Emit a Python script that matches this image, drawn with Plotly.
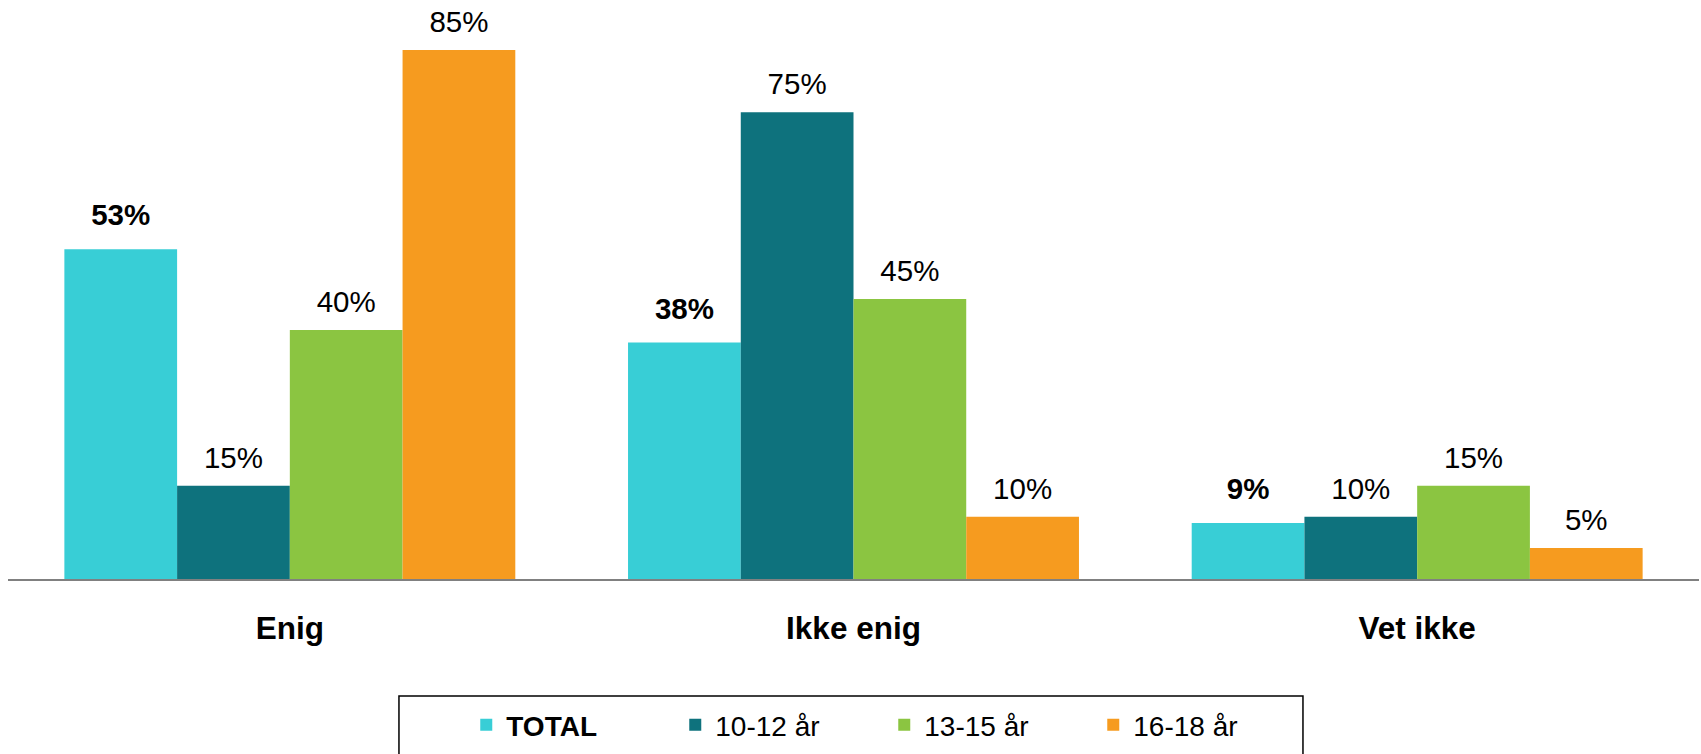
import plotly.graph_objects as go

categories = ["Enig", "Ikke enig", "Vet ikke"]
series_names = ["TOTAL", "10-12 år", "13-15 år", "16-18 år"]
legend_labels = ["<b>TOTAL</b>", "10-12 år", "13-15 år", "16-18 år"]
total = [53, 38, 9]
age_10_12 = [15, 75, 10]
age_13_15 = [40, 45, 15]
age_16_18 = [85, 10, 5]
values = [total, age_10_12, age_13_15, age_16_18]
colors = ["#38CED6", "#0E727D", "#8BC541", "#F69B1F"]

FONT = "Liberation Sans, Arial, sans-serif"

fig = go.Figure()
for name, lab, vals, col in zip(series_names, legend_labels, values, colors):
    fig.add_trace(go.Bar(
        x=categories, y=vals, name=lab, marker=dict(color=col, line=dict(width=0)),
        hoverinfo="skip",
    ))
for i, (name, vals) in enumerate(zip(series_names, values)):
    bold = i == 0
    txt = [f"<b>{v}%</b>" if bold else f"{v}%" for v in vals]
    fig.add_trace(go.Scatter(
        x=categories, y=vals, mode="markers+text", text=txt,
        textposition="top center",
        textfont=dict(family=FONT, size=29.5, color="#000000"),
        marker=dict(size=25 if bold else 15.5, color="rgba(0,0,0,0)"),
        showlegend=False, hoverinfo="skip", cliponaxis=False,
    ))

fig.update_layout(
    width=1701, height=754,
    margin=dict(l=8, r=2, t=19, b=175),
    paper_bgcolor="white", plot_bgcolor="white",
    barmode="group", bargap=0.2, bargroupgap=0,
    scattermode="group", scattergap=0.2,
    font=dict(family=FONT, size=28, color="#000000"),
    xaxis=dict(
        showline=True, linecolor="#808080", linewidth=2,
        showgrid=False, zeroline=False,
        ticks="outside", ticklen=20, tickcolor="rgba(0,0,0,0)",
        tickfont=dict(family=FONT, size=31.5, color="#000000", weight="bold"),
    ),
    yaxis=dict(range=[0, 90], visible=False, showgrid=False, zeroline=False),
    showlegend=True,
    legend=dict(
        orientation="h", x=0.271, xanchor="left", y=-0.216, yanchor="top",
        font=dict(family=FONT, size=28, color="#000000"),
        bgcolor="rgba(0,0,0,0)", borderwidth=0,
        entrywidth=164, entrywidthmode="pixels",
        traceorder="normal",
    ),
    shapes=[dict(
        type="rect", xref="paper", yref="paper",
        x0=0.2312, x1=0.7658, y0=-0.2089, y1=-0.33,
        line=dict(color="#000000", width=1.5), fillcolor="rgba(0,0,0,0)",
    )],
)

fig.write_html("out.html")
